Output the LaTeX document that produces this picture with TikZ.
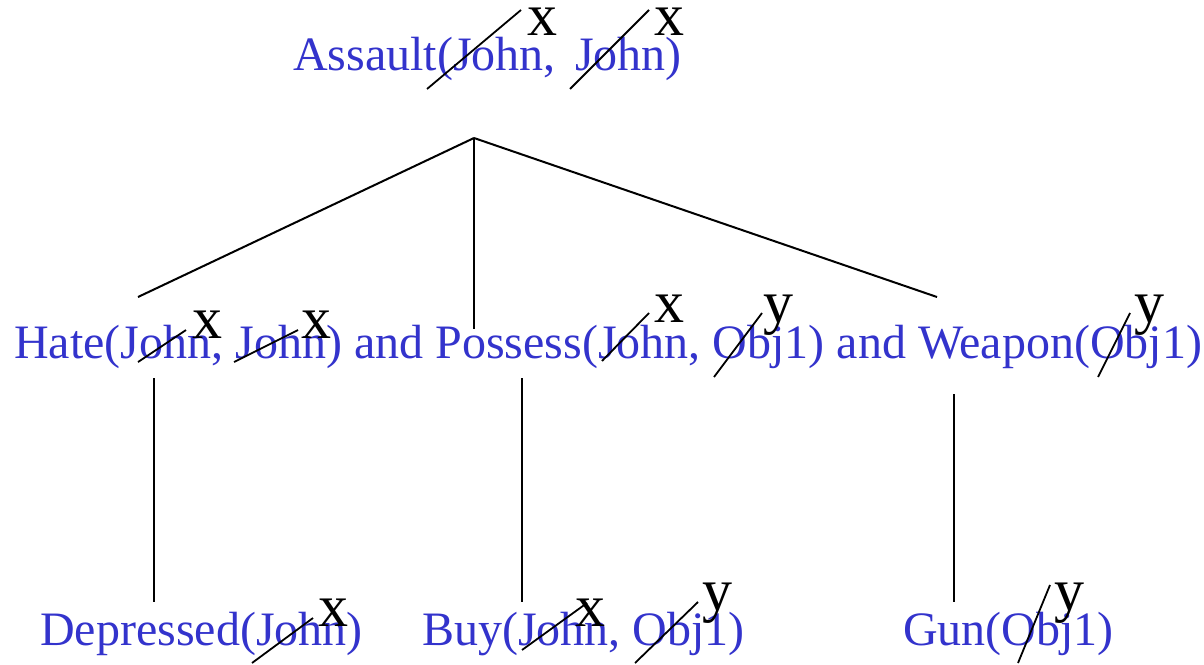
\documentclass[tikz,border=0pt]{standalone}
\usepackage{fontspec}
\setmainfont{Liberation Serif}
\definecolor{txtblue}{RGB}{51,51,204}
\begin{document}
\begin{tikzpicture}[x=1pt,y=-1pt,
  term/.style={inner sep=0pt, anchor=base west, text=txtblue, font=\fontsize{48}{56}\selectfont},
  var/.style={inner sep=0pt, anchor=base, text=black, font=\fontsize{60}{70}\selectfont},
  edge/.style={line width=2pt, black},
  strike/.style={line width=1.8pt, black}]
\useasboundingbox (0,0) rectangle (1204,664);
% terms
\node[term] (top) at (293,70) {Assault(John,\hspace{0.4em}John)};
\node[term] (mid) at (14,358) {Hate(John, John) and Possess(John, Obj1) and Weapon(Obj1)};
\node[term] (dep) at (40,645) {Depressed(John)};
\node[term] (buy) at (422,645) {Buy(John, Obj1)};
\node[term] (gun) at (903,645) {Gun(Obj1)};
% tree connectors
\coordinate (apex) at (474,138);
\coordinate (hateTop) at (138,297);
\coordinate (possTop) at (474,329);
\coordinate (weapTop) at (937,297);
\coordinate (hateBot) at (154,378);
\coordinate (possBot) at (522,378);
\coordinate (weapBot) at (954,394);
\coordinate (depTop) at (154,602);
\coordinate (buyTop) at (522,602);
\coordinate (gunTop) at (954,602);
\draw[edge] (apex) -- (hateTop);
\draw[edge] (apex) -- (possTop);
\draw[edge] (apex) -- (weapTop);
\draw[edge] (hateBot) -- (depTop);
\draw[edge] (possBot) -- (buyTop);
\draw[edge] (weapBot) -- (gunTop);
% strike lines
\draw[strike] (427,89) -- (521,10);
\draw[strike] (570,89) -- (649,10);
\draw[strike] (138,362) -- (186,330);
\draw[strike] (234,362) -- (298,330);
\draw[strike] (602,361) -- (649,313);
\draw[strike] (714,377) -- (762,313);
\draw[strike] (1098,377) -- (1130,313);
\draw[strike] (252,663) -- (313,618);
\draw[strike] (522,650) -- (587,603);
\draw[strike] (635,663) -- (698,602);
\draw[strike] (1018,663) -- (1050,585);
% variable labels
\node[var] (vt1) at (542,35) {x};
\node[var] (vt2) at (669,35) {x};
\node[var] (vh1) at (207,338) {x};
\node[var] (vh2) at (316,338) {x};
\node[var] (vp1) at (669,322) {x};
\node[var] (vp2) at (778,322) {y};
\node[var] (vw1) at (1149,322) {y};
\node[var] (vd1) at (333,626) {x};
\node[var] (vb1) at (590,626) {x};
\node[var] (vb2) at (717,610) {y};
\node[var] (vg1) at (1069,610) {y};
\end{tikzpicture}
\end{document}
